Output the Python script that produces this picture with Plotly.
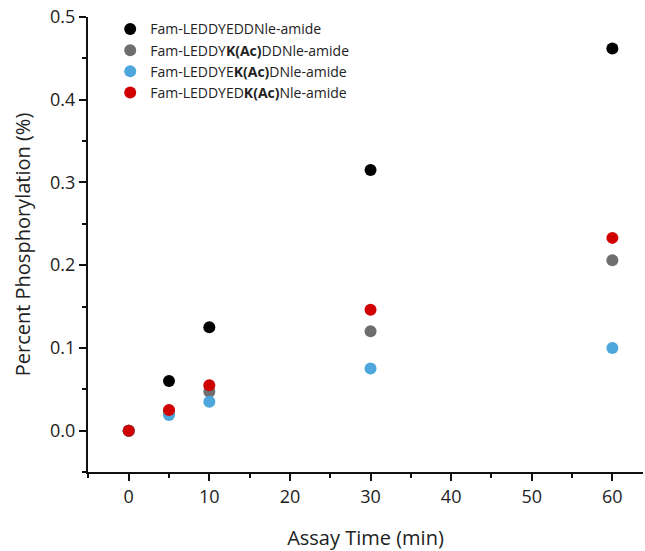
import plotly.graph_objects as go

times = [0, 5, 10, 30, 60]
names = ["Fam-LEDDYEDDNle-amide",
         "Fam-LEDDY<b>K(Ac)</b>DDNle-amide",
         "Fam-LEDDYE<b>K(Ac)</b>DNle-amide",
         "Fam-LEDDYED<b>K(Ac)</b>Nle-amide"]
colors = ["#000000", "#6e6e6e", "#4da6dc", "#d00000"]
s1 = [0.0, 0.060, 0.125, 0.315, 0.462]
s2 = [0.0, 0.023, 0.047, 0.120, 0.206]
s3 = [0.0, 0.019, 0.035, 0.075, 0.100]
s4 = [0.0, 0.025, 0.055, 0.146, 0.233]
series = [s1, s2, s3, s4]

fig = go.Figure()
for i, (n, c, s) in enumerate(zip(names, colors, series)):
    fig.add_trace(go.Scatter(x=times, y=s, mode="markers", name=n,
                             marker=dict(color=c, size=12)))

font = "Open Sans"
tc = "#222"
fig.update_layout(
    width=645, height=551,
    margin=dict(l=88, r=2, t=17, b=79),
    plot_bgcolor="white", paper_bgcolor="white",
    font=dict(family=font, color=tc, size=14),
    showlegend=True,
    legend=dict(x=0.04, y=1.008, xanchor="left", yanchor="top",
                font=dict(family=font, size=14, color=tc),
                bgcolor="rgba(0,0,0,0)", itemsizing="constant",
                tracegroupgap=0),
    xaxis=dict(range=[-5.05, 63.8], tickmode="array", tickvals=[0, 10, 20, 30, 40, 50, 60],
               showgrid=False, zeroline=False, showline=True, linecolor="#111", linewidth=2,
               ticks="outside", ticklen=7, tickwidth=2, tickcolor="#111",
               minor=dict(ticks="outside", ticklen=4, tickwidth=2, tickcolor="#111", dtick=5, tick0=5, showgrid=False),
               title=dict(text="Assay Time (min)", font=dict(size=20, family=font, color=tc), standoff=24),
               tickfont=dict(size=18, family=font, color=tc)),
    yaxis=dict(range=[-0.05, 0.5], tickmode="array", tickvals=[0.0, 0.1, 0.2, 0.3, 0.4, 0.5],
               tickformat=".1f",
               showgrid=False, zeroline=False, showline=True, linecolor="#111", linewidth=2,
               ticks="outside", ticklen=7, tickwidth=2, tickcolor="#111",
               minor=dict(ticks="outside", ticklen=4, tickwidth=2, tickcolor="#111", dtick=0.05, tick0=0.05, showgrid=False),
               title=dict(text="Percent Phosphorylation (%)", font=dict(size=20, family=font, color=tc), standoff=14),
               tickfont=dict(size=18, family=font, color=tc)),
)
fig.write_html("out.html")
